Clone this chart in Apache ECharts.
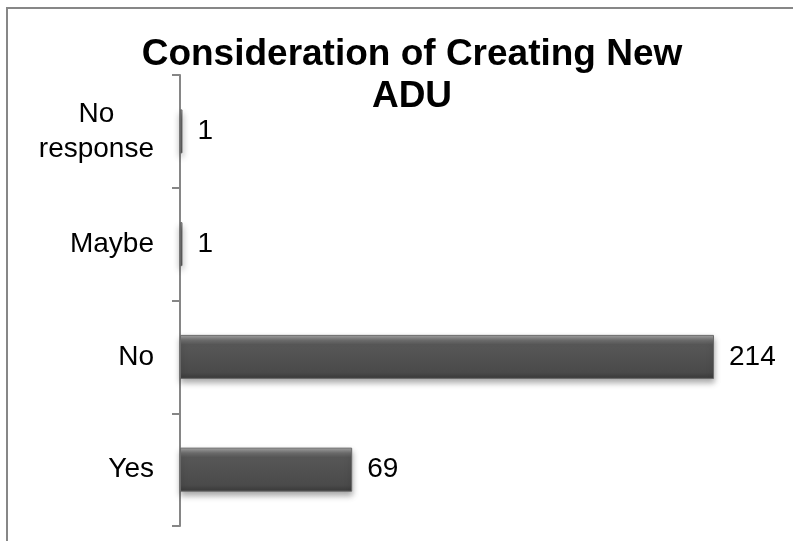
<!DOCTYPE html>
<html>
<head>
<meta charset="utf-8">
<script src="https://cdn.jsdelivr.net/npm/echarts@6/dist/echarts.min.js"></script>
<style>
html,body{margin:0;padding:0;background:#fff;}
#c{width:793px;height:541px;}
</style>
</head>
<body>
<div id="c"></div>
<script>
var titleText = 'Consideration of Creating New\nADU';
var categories = ['Yes', 'No', 'Maybe', 'No response'];
var values = [69, 214, 1, 1];
var xMax = 220;

var FONT = '"Liberation Sans", Arial, sans-serif';
var chart = echarts.init(document.getElementById('c'), null, {renderer: 'canvas'});

var barColor = new echarts.graphic.LinearGradient(0, 0, 0, 1, [
  {offset: 0, color: '#a8a8a8'},
  {offset: 0.12, color: '#707070'},
  {offset: 0.22, color: '#575757'},
  {offset: 0.85, color: '#4a4a4a'},
  {offset: 1, color: '#3a3a3a'}
]);

chart.setOption({
  animation: false,
  backgroundColor: '#ffffff',
  title: {
    text: titleText,
    left: 407,
    top: 29,
    textAlign: 'center',
    textStyle: {fontFamily: FONT, fontSize: 37, fontWeight: 'bold', color: '#000', lineHeight: 42}
  },
  graphic: [{
    type: 'rect',
    shape: {x: 7, y: 8, width: 800, height: 545},
    style: {fill: 'none', stroke: '#878787', lineWidth: 2},
    silent: true,
    z: 100
  }],
  grid: {left: 180, top: 75, bottom: 15, width: 549},
  xAxis: {
    type: 'value', min: 0, max: xMax, show: false,
    splitLine: {show: false}
  },
  yAxis: {
    type: 'category',
    data: categories,
    axisLine: {show: true, lineStyle: {color: '#868686', width: 2}},
    axisTick: {show: true, length: 8, lineStyle: {color: '#868686', width: 2}},
    axisLabel: {
      margin: 26,
      fontFamily: FONT, fontSize: 28, color: '#000', lineHeight: 35,
      formatter: function (v) {
        if (v === 'No response') return '{c|No}\n{c|response}';
        return '{c|' + v + '}';
      },
      rich: {c: {fontFamily: FONT, fontSize: 28, color: '#000', align: 'center', lineHeight: 35}}
    }
  },
  series: [{
    type: 'bar',
    data: values,
    barWidth: 44,
    itemStyle: {
      color: barColor,
      borderColor: '#6a6a6a',
      borderWidth: 1,
      shadowColor: 'rgba(0,0,0,0.35)',
      shadowBlur: 6,
      shadowOffsetY: 4
    },
    label: {
      show: true, position: 'right', distance: 15,
      fontFamily: FONT, fontSize: 28, color: '#000'
    }
  }]
});
</script>
</body>
</html>
